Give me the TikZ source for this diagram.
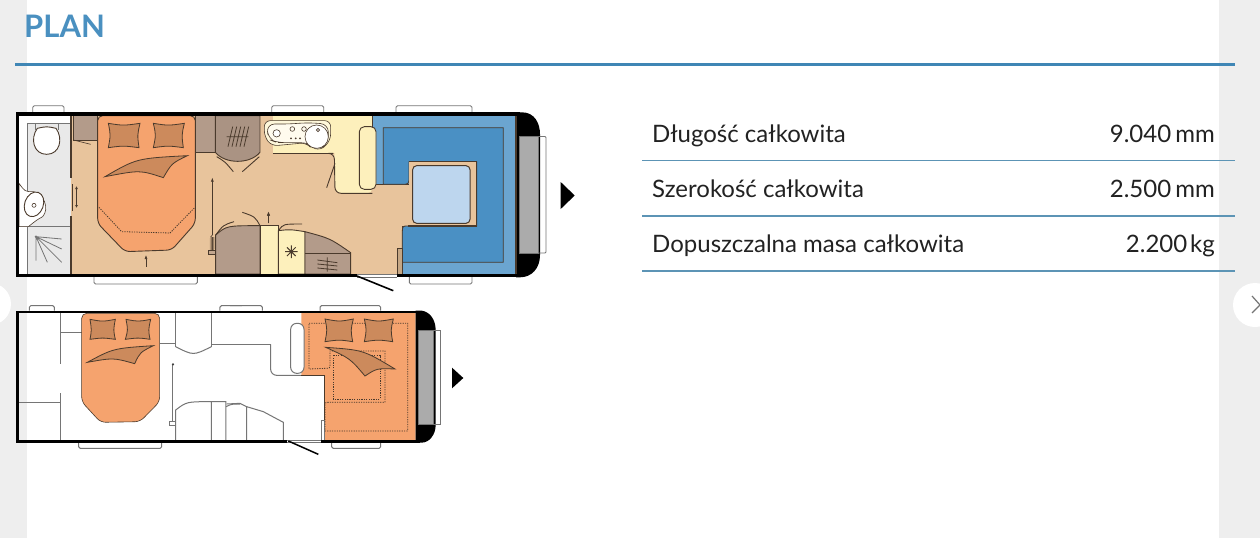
\documentclass[tikz,border=0pt]{standalone}
\usepackage{fontspec}
\setmainfont{Lato}
\definecolor{pagegray}{HTML}{EEEEEE}
\definecolor{headblue}{HTML}{4A90C0}
\definecolor{ruleblue}{HTML}{3F86B5}
\definecolor{tblue}{HTML}{5C94B5}
\definecolor{floortan}{HTML}{E8C49C}
\definecolor{bedor}{HTML}{F5A36E}
\definecolor{pillow}{HTML}{CC8A5C}
\definecolor{cupb}{HTML}{B39B8A}
\definecolor{kitch}{HTML}{FDF0BC}
\definecolor{blueL}{HTML}{6BA5D0}
\definecolor{blueD}{HTML}{4A90C4}
\definecolor{tablebl}{HTML}{BDD6EE}
\definecolor{bathg}{HTML}{E9E9E9}
\definecolor{winG}{HTML}{ABABAB}
\definecolor{ink}{HTML}{4A3A2C}
\definecolor{wgray}{HTML}{757575}
\definecolor{txt}{HTML}{222222}
\tikzset{
  zm/.style 2 args={shift={(#1,#2)},x=0.33333pt,y=-0.33333pt},
  inkline/.style={draw=ink,line width=0.9pt},
  thinline/.style={draw=ink,line width=0.6pt},
  gline/.style={draw=wgray,line width=1pt},
  wall/.style={draw=wgray,line width=1.6pt},
  tab/.style={draw=wgray,fill=white,line width=0.9pt,rounded corners=1.5pt},
  pil/.style={fill=pillow,draw=ink,line width=0.8pt},
  dots/.style={draw=ink,line width=0.8pt,dash pattern=on 1.2pt off 1.2pt},
  rowtext/.style={anchor=base west,inner sep=0pt,text=txt,font=\fontsize{24}{28}\selectfont},
  rowval/.style={anchor=base east,inner sep=0pt,text=txt,font=\fontsize{24}{28}\selectfont},
  smallarrow/.style={draw=ink,line width=0.6pt,-{Latex[length=4pt,width=3pt]}},
}
\usetikzlibrary{arrows.meta}
\begin{document}
\begin{tikzpicture}[x=1pt,y=-1pt]
\clip (0,0) rectangle (1260,538);
\fill[white] (0,0) rectangle (1260,538);
\fill[pagegray] (0,0) rectangle (27,538);
\fill[pagegray] (1219,0) rectangle (1260,538);
\fill[white] (-10,304) circle (21);
\fill[white] (1255,305) circle (22);
\draw[wgray,line width=1.2pt] (1252,296) -- (1260,305) -- (1252,313);

% header
\node[anchor=base west,inner sep=0pt,text=headblue,font=\fontsize{31}{34}\selectfont\bfseries] (title) at (24,37.3) {PLAN};
\draw[ruleblue,line width=2.2pt] (15,64.5) -- (1235,64.5);

% table
\node[rowtext] (r1) at (652,142.3) {Długość całkowita};
\node[rowval] (v1) at (1215,142.3) {9.040\kern 0.17em mm};
\draw[tblue,line width=1.3pt] (642,160.5) -- (1235,160.5);
\node[rowtext] (r2) at (652,197.7) {Szerokość całkowita};
\node[rowval] (v2) at (1215,197.7) {2.500\kern 0.17em mm};
\draw[tblue,line width=1.3pt] (642,216) -- (1235,216);
\node[rowtext] (r3) at (652,252.7) {Dopuszczalna masa całkowita};
\node[rowval] (v3) at (1215,252.7) {2.200\kern 0.12em kg};
\draw[tblue,line width=1.3pt] (642,271) -- (1235,271);

%%%%%%%%%%%%%%%%%%%% PLAN 1 %%%%%%%%%%%%%%%%%%%%
% windows
\draw[tab] (32.7,113) -- (32.7,105.7) -- (64,105.7) -- (64,113);
\draw[tab] (271.7,113) -- (271.7,105.7) -- (323.7,105.7) -- (323.7,113);
\draw[tab] (396,113) -- (396,105.7) -- (472,105.7) -- (472,113);
\draw[tab] (94,276) -- (94,284) -- (197.3,284) -- (197.3,276);
\draw[tab] (409.3,276) -- (409.3,284) -- (472,284) -- (472,276);
% floor
\fill[floortan] (71,115) rectangle (412,274);
% bath
\fill[white] (19,115) rectangle (71,274);
\fill[bathg] (27.5,123) rectangle (71,274);
\draw[wgray,line width=0.8pt] (27.5,123) -- (27.5,274) (27.5,123) -- (71,123) (19,226.7) -- (71,226.7);
\draw[ink,line width=1.2pt] (71,115) -- (71,178) (71,216) -- (71,274);
\draw[ink,line width=1pt] (72.5,184) -- (72.5,211);
\draw[draw=ink,line width=0.6pt,{Latex[length=3pt,width=3pt]}-{Latex[length=3pt,width=3pt]}] (76.5,186) -- (76.5,208);
\begin{scope}[zm={0}{95}]
 % toilet
 \draw[wgray,line width=0.7pt] (105,85) -- (105,105) (175,85) -- (175,105);
 \draw[inkline,fill=white] (112,100) .. controls (140,94) .. (168,100) .. controls (190,130) and (180,178) .. (140,178) .. controls (100,178) and (90,130) .. (112,100) -- cycle;
 % wash basin
 \draw[thinline,fill=white] (57,265) .. controls (75,290) .. (100,290) .. controls (130,295) and (150,340) .. (128,365) .. controls (110,375) .. (85,395) -- (57,395) -- cycle;
 \draw[inkline,fill=white,rotate around={-20:(102,328)}] (102,328) ellipse (28 and 38);
 \draw[thinline] (102,331) circle (6);
 % shower
 \draw[wgray,line width=0.8pt] (108,425) -- (185,432) (108,425) -- (185,462) (108,425) -- (185,502) (108,425) -- (142,502) (108,425) -- (108,497);
 \fill[wgray] (108,425) circle (4);
 % cupboards
 \draw[inkline,fill=cupb] (220,62) -- (293,62) -- (293,135) -- (220,135) -- cycle;
 \draw[thinline] (220,135) -- (272,148);
 % bed side cupboard
 \draw[inkline,fill=cupb] (586,62) -- (646,62) -- (646,172) -- (586,172) -- cycle;
 % wardrobe
 \draw[inkline,fill=cupb!95!black] (646,62) -- (780,62) -- (780,172) .. controls (750,208) and (676,208) .. (646,172) -- cycle;
 \draw[thinline,line width=0.9pt] (650,185) .. controls (675,200) .. (700,230);
 \draw[thinline,line width=0.9pt] (778,185) .. controls (752,205) .. (727,230);
 \draw[ink,line width=0.8pt] (680,125) -- (745,125) (698,95) -- (684,155) (710,95) -- (696,155) (722,95) -- (708,155) (734,95) -- (720,155) (746,95) -- (732,155);
 % bed
 \draw[inkline,fill=bedor,rounded corners=5pt] (293,62) -- (586,62) -- (586,385) -- (515,465) -- (375,470) -- (293,385) -- cycle;
 \draw[pil] (325,85) .. controls (370,92) .. (420,85) .. controls (412,120) .. (417,158) .. controls (370,152) .. (325,158) .. controls (332,120) .. (325,85) -- cycle;
 \draw[pil] (460,85) .. controls (505,92) .. (553,85) .. controls (545,120) .. (550,158) .. controls (505,152) .. (460,158) .. controls (468,120) .. (460,85) -- cycle;
 \draw[pil] (315,245) .. controls (410,190) .. (562,182) .. controls (515,205) .. (490,248) .. controls (420,225) .. (315,245) -- cycle;
 \draw[dots] (297,337) -- (365,410) -- (510,414) -- (585,337);
 \draw[smallarrow] (438,515) -- (438,480);
 % long arrow + spring
 \draw[smallarrow] (637,420) -- (637,248);
 \draw[thinline] (637,420) \foreach \yy in {426,432,...,462} { -- (632,\yy) -- (642,\yy+3) };
 \draw[thinline,fill=cupb!70!floortan] (624,465) rectangle (647,478);
 \draw[smallarrow] (806,385) -- (806,350);
\end{scope}
% kitchen
\begin{scope}[zm={280}{95}]
 \fill[kitch] (-21,62) rectangle (277,175);
 \fill[kitch,rounded corners=5pt] (163,100) -- (277,100) -- (277,295) -- (178,295) -- (165,283) -- (163,170) -- cycle;
 \draw[inkline] (-20,175) -- (160,175);
 \draw[inkline,rounded corners=6pt] (160,175) -- (163,175) -- (165,295) -- (277,295);
 \draw[thinline,line width=0.9pt] (165,205) -- (140,278);
 % blue area
 \draw[ink,line width=0.7pt,fill=blueL] (277,62) -- (707,62) -- (707,538) -- (367,538) -- (367,393) -- (590,393) -- (590,200) -- (387,200) -- (387,268) -- (277,268) -- cycle;
 \draw[draw=ink,line width=0.8pt,fill=blueD] (310,98) -- (670,98) -- (670,502) -- (367,502) -- (367,415) .. controls (367,393) .. (385,393) -- (590,393) -- (590,200) -- (387,200) -- (387,245) .. controls (387,268) .. (362,268) -- (310,268) -- cycle;
 % table
 \fill[floortan] (387,200) rectangle (590,393);
 \draw[ink,line width=1.1pt] (387,200) -- (590,200) -- (590,393) -- (385,393);
 \draw[ink,line width=1pt,fill=tablebl,rounded corners=4pt] (398,212) rectangle (570,385);
 \draw[inkline,fill=kitch,rounded corners=5pt] (238,95) rectangle (288,283);
 % step
 \draw[inkline,fill=floortan!85!black] (352,460) rectangle (367,538);
\end{scope}
% sink unit
\begin{scope}[zm={200}{100}]
 \draw[thinline,fill=kitch!55!white,rounded corners=6pt] (193,62) -- (392,62) -- (392,120) -- (362,152) -- (330,140) -- (320,128) -- (215,138) -- (193,110) -- cycle;
 \draw[thinline,fill=kitch!25!white,rounded corners=8pt] (200,72) -- (270,72) -- (320,68) -- (385,72) -- (385,130) -- (358,148) -- (325,128) -- (258,128) -- (232,128) -- (205,118) -- cycle;
 \draw[thinline,fill=white] (350,110) circle (35);
 \draw[thinline,fill=white] (230,100) circle (11);
 \draw[thinline] (277,87) circle (7) (312,87) circle (7) (354,90) circle (5);
 \fill[ink] (273,115) circle (3) (287,115) circle (3) (300,115) circle (3);
\end{scope}
% lower units
\begin{scope}[zm={200}{200}]
 \draw[inkline,fill=cupb] (47,222) -- (47,105) .. controls (80,77) .. (180,77) -- (180,222) -- cycle;
 \draw[inkline,fill=kitch] (180,77) -- (235,77) -- (235,222) -- (180,222) -- cycle;
 \draw[inkline,fill=kitch] (235,92) .. controls (270,88) .. (315,95) -- (315,222) -- (235,222) -- cycle;
 \draw[inkline,fill=cupb] (315,95) .. controls (390,115) .. (452,158) -- (452,222) -- (315,222) -- cycle;
 \draw[inkline] (315,161) -- (452,161);
 \draw[thinline,line width=0.9pt] (47,105) .. controls (70,75) .. (102,65);
 \draw[thinline,line width=0.9pt] (180,77) .. controls (165,50) .. (127,37);
 \draw[thinline,line width=0.9pt] (237,90) .. controls (250,72) .. (306,72);
 \draw[smallarrow] (205,70) -- (205,35);
 \draw[ink,line width=1pt] (274,136) -- (274,174) (255,155) -- (293,155) (261,142) -- (287,168) (261,168) -- (287,142);
 \draw[ink,line width=0.8pt] (382,172) -- (382,215) (352,180) -- (412,188) (352,192) -- (412,198) (352,204) -- (412,210);
\end{scope}
% rear cap and frame
\fill[black] (516,112.3) -- (522,112.3) .. controls (535,112.3) and (540,124) .. (540,134) -- (540,255) .. controls (540,268) and (532,277.3) .. (520,277.3) -- (516,277.3) -- cycle;
\draw[ink,line width=1pt] (516,115) -- (516,274);
\fill[winG] (519,136.5) rectangle (538,253);
\draw[wgray,line width=0.7pt] (519,136.5) rectangle (538,253);
\draw[wgray,line width=0.8pt,rounded corners=1pt] (538,136.5) -- (546,136.5) -- (546,253) -- (538,253);
\draw[wgray,line width=0.6pt] (357,274.6) -- (397,274.6) (357,277.2) -- (397,277.2);
\fill[black] (16,112.3) rectangle (520,115.7);
\fill[black] (16,112.3) rectangle (19.3,277.3);
\fill[black] (16,274) rectangle (357,277.3);
\fill[black] (397,274) rectangle (520,277.3);
\draw[black,line width=1.6pt] (357,276) -- (393.3,290.7);
\fill[black] (560.7,182) -- (574.7,195.5) -- (560.7,209) -- cycle;

%%%%%%%%%%%%%%%%%%%% PLAN 2 %%%%%%%%%%%%%%%%%%%%
\begin{scope}[zm={0}{295}]
 \draw[gline,rounded corners=1.5pt] (88,47) -- (88,32) -- (163,32) -- (163,47);
 \draw[gline,rounded corners=1.5pt] (660,47) -- (660,32) -- (726,32);
 \draw[gline,rounded corners=1.5pt] (236,443) -- (236,460) -- (485,460) -- (485,443);
 \draw[wall] (181,55) -- (181,207) (181,295) -- (181,436);
 \draw[gline] (181,113) -- (245,113) (57,322) -- (181,322);
 \draw[thinline,fill=bedor,rounded corners=5pt] (245,55) -- (479,55) -- (479,320) -- (420,380) -- (302,382) -- (245,320) -- cycle;
 \draw[pil] (270,73) .. controls (308,80) .. (346,73) .. controls (340,105) .. (346,133) .. controls (308,128) .. (270,133) .. controls (275,105) .. (270,73) -- cycle;
 \draw[pil] (378,73) .. controls (415,80) .. (452,73) .. controls (445,105) .. (450,133) .. controls (415,128) .. (376,133) .. controls (384,105) .. (378,73) -- cycle;
 \draw[pil] (262,202) .. controls (340,160) .. (460,152) .. controls (420,172) .. (404,206) .. controls (340,188) .. (262,202) -- cycle;
 \draw[gline] (479,145) -- (527,145) (527,55) -- (527,155) (634,55) -- (634,155) (634,148) -- (720,148);
 \draw[gline] (527,155) .. controls (580,182) .. (634,155);
 \draw[gline,line width=0.7pt] (518,378) -- (518,208);
 \fill[black!75] (519,208) circle (3.5);
 \draw[gline,fill=white] (508,378) rectangle (527,390);
 \draw[gline] (527,438) -- (527,345) .. controls (560,320) .. (634,320) -- (678,320) -- (678,438) (634,320) -- (634,438);
 \draw[gline] (678,335) .. controls (695,327) .. (720,327);
\end{scope}
\begin{scope}[zm={230}{295}]
 \draw[gline,rounded corners=1.5pt] (0,32) -- (97,32) -- (97,47);
 \draw[gline,rounded corners=1.5pt] (270,47) -- (270,32) -- (452,32) -- (452,47);
 \draw[gline,rounded corners=1.5pt] (305,443) -- (305,460) -- (452,460) -- (452,443);
 \draw[gline] (-10,148) -- (122,148);
 \draw[gline,rounded corners=6pt] (122,148) -- (122,241) -- (214,241);
 \draw[gline] (-10,327) -- (30,325) -- (50,335) -- (100,350) -- (160,382) -- (160,438) (50,335) -- (50,438);
 % orange
 \fill[bedor] (214,53) -- (557,53) -- (557,437) -- (282,437) -- (282,241) -- (214,241) -- cycle;
 \draw[ink,line width=0.6pt] (214,241) -- (282,241) -- (282,375);
 \draw[gline,fill=white,rounded corners=6pt] (182,85) rectangle (222,235);
 \draw[gline,fill=white] (273,375) rectangle (282,437);
 \draw[dots] (237,85) -- (533,85) -- (533,408) -- (285,408) -- (285,335) .. controls (285,322) .. (297,322) -- (465,322) -- (465,168) -- (300,168) -- (300,205) .. controls (300,220) .. (285,220) -- (237,222) -- cycle;
 \draw[dots] (310,180) -- (450,180) -- (450,312) -- (310,312) -- cycle;
 \draw[pil] (285,72) .. controls (328,80) .. (370,72) .. controls (362,105) .. (368,140) .. controls (328,134) .. (285,140) .. controls (292,105) .. (285,72) -- cycle;
 \draw[pil] (403,72) .. controls (446,80) .. (490,72) .. controls (482,105) .. (488,140) .. controls (446,134) .. (403,140) .. controls (410,105) .. (403,72) -- cycle;
 \draw[pil] (287,157) .. controls (400,165) .. (495,222) .. controls (440,220) .. (405,243) .. controls (360,190) .. (287,157) -- cycle;
 \fill[black] (557,47) -- (575,47) .. controls (600,50) and (617,75) .. (617,105) -- (617,390) .. controls (617,420) and (597,443) .. (575,443) -- (557,443) -- cycle;
 \fill[winG] (565,107) rectangle (610,387);
 \draw[wgray,line width=0.7pt] (565,107) rectangle (610,387);
 \draw[gline,line width=0.8pt] (610,105) -- (631,105) -- (631,387) -- (610,387);
 \draw[gline,line width=0.6pt] (170,436) -- (273,436) (170,443) -- (273,443);
 \draw[black,line width=1.5pt] (175,438) -- (265,478);
 \fill[black] (666,218) -- (700,249) -- (666,280) -- cycle;
\end{scope}
\fill[black] (16,310.7) rectangle (420,313.3);
\fill[black] (16,310.7) rectangle (19.3,442.7);
\fill[black] (16,440) rectangle (287,442.7);
\fill[black] (321,440) rectangle (420,442.7);
\end{tikzpicture}
\end{document}
